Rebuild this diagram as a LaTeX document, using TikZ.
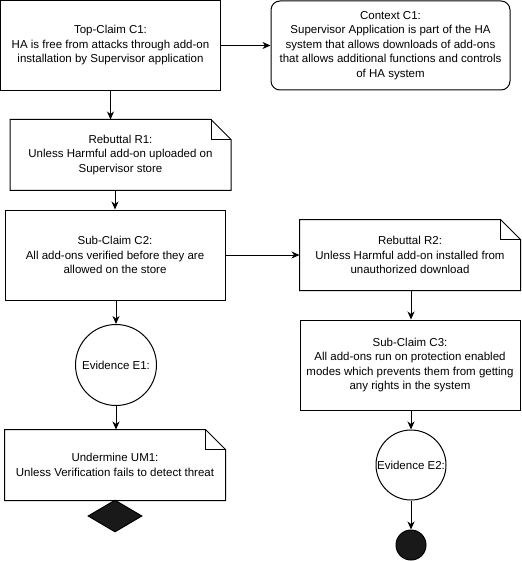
\documentclass[tikz,border=0pt]{standalone}
\usepackage{fontspec}
\setmainfont{Liberation Sans}
\usetikzlibrary{arrows.meta,shapes.geometric,calc}

\tikzset{
  every node/.style={font=\fontsize{11.5}{14.5}\selectfont, align=center},
  claim/.style={draw, rectangle, minimum width=220pt, minimum height=90pt, inner sep=0pt},
  ctxbox/.style={draw, rectangle, rounded corners=9pt, minimum width=239pt, minimum height=89pt, inner sep=0pt},
  notebox/.style={rectangle, minimum width=220pt, minimum height=70pt, inner sep=0pt},
  evid/.style={draw, circle, inner sep=0pt},
  link/.style={-{Stealth[length=8pt,width=7pt,inset=2.5pt]}},
}
% outline of a note with folded corner
\newcommand{\notefold}[1]{%
  \draw (#1.south west) -- (#1.north west) -- ([xshift=-20pt]#1.north east)
    -- ([yshift=-20pt]#1.north east) -- (#1.south east) -- cycle;
  \draw ([xshift=-20pt]#1.north east) |- ([yshift=-20pt]#1.north east);}

\begin{document}
\begin{tikzpicture}[x=1pt, y=-1pt, line width=1pt]
		\useasboundingbox (0,0) rectangle (521,561);
		\node[claim] (c1) at (110.5,45.5) {Top-Claim C1:\\HA is free from attacks through add-on\\installation by Supervisor application};
		\node[ctxbox] (ctx) at (390.5,45.5) {Context C1:\\Supervisor Application is part of the HA\\system that allows downloads of add-ons\\that allows additional functions and controls\\of HA system};
		\node[notebox] (r1) at (120.5,155) {Rebuttal R1:\\Unless Harmful add-on uploaded on\\Supervisor store};
		\node[claim] (c2) at (115,255) {Sub-Claim C2:\\All add-ons verified before they are\\allowed on the store};
		\node[notebox] (r2) at (410,255) {Rebuttal R2:\\Unless Harmful add-on installed from\\unauthorized download};
		\node[claim] (c3) at (410,365) {Sub-Claim C3:\\All add-ons run on protection enabled\\modes which prevents them from getting\\any rights in the system};
		\node[evid, minimum size=81pt] (e1) at (116,365) {Evidence E1:};
		\node[evid, minimum size=70pt] (e2) at (411,465) {Evidence E2:};
		\node[notebox] (um1) at (115,465) {Undermine UM1:\\Unless Verification fails to detect threat};
		\node[draw, fill=black!90, diamond, minimum width=54pt, minimum height=32pt, inner sep=0pt] (d1) at (115,516) {};
		\node[draw, fill=black!90, circle, minimum size=30pt, inner sep=0pt] (dot) at (411,545) {};

		\notefold{r1}
		\notefold{r2}
		\notefold{um1}

		\draw[link] (c1) -- (ctx);
		\draw[link] (c1.south) -- (c1.south |- r1.north);
		\draw[link] (c2.north |- r1.south) -- (c2.north);
		\draw[link] (c2.east) -- (c2.east -| r2.west);
		\draw[link] (r2.south -| e2) -- (c3.north -| e2);
		\draw[link] (c3.south -| e2) -- (e2);
		\draw[link] (e2) -- (dot);
		\draw[link] (c2.south -| e1) -- (e1);
		\draw[link] (e1) -- (um1.north -| e1);
\end{tikzpicture}
\end{document}
